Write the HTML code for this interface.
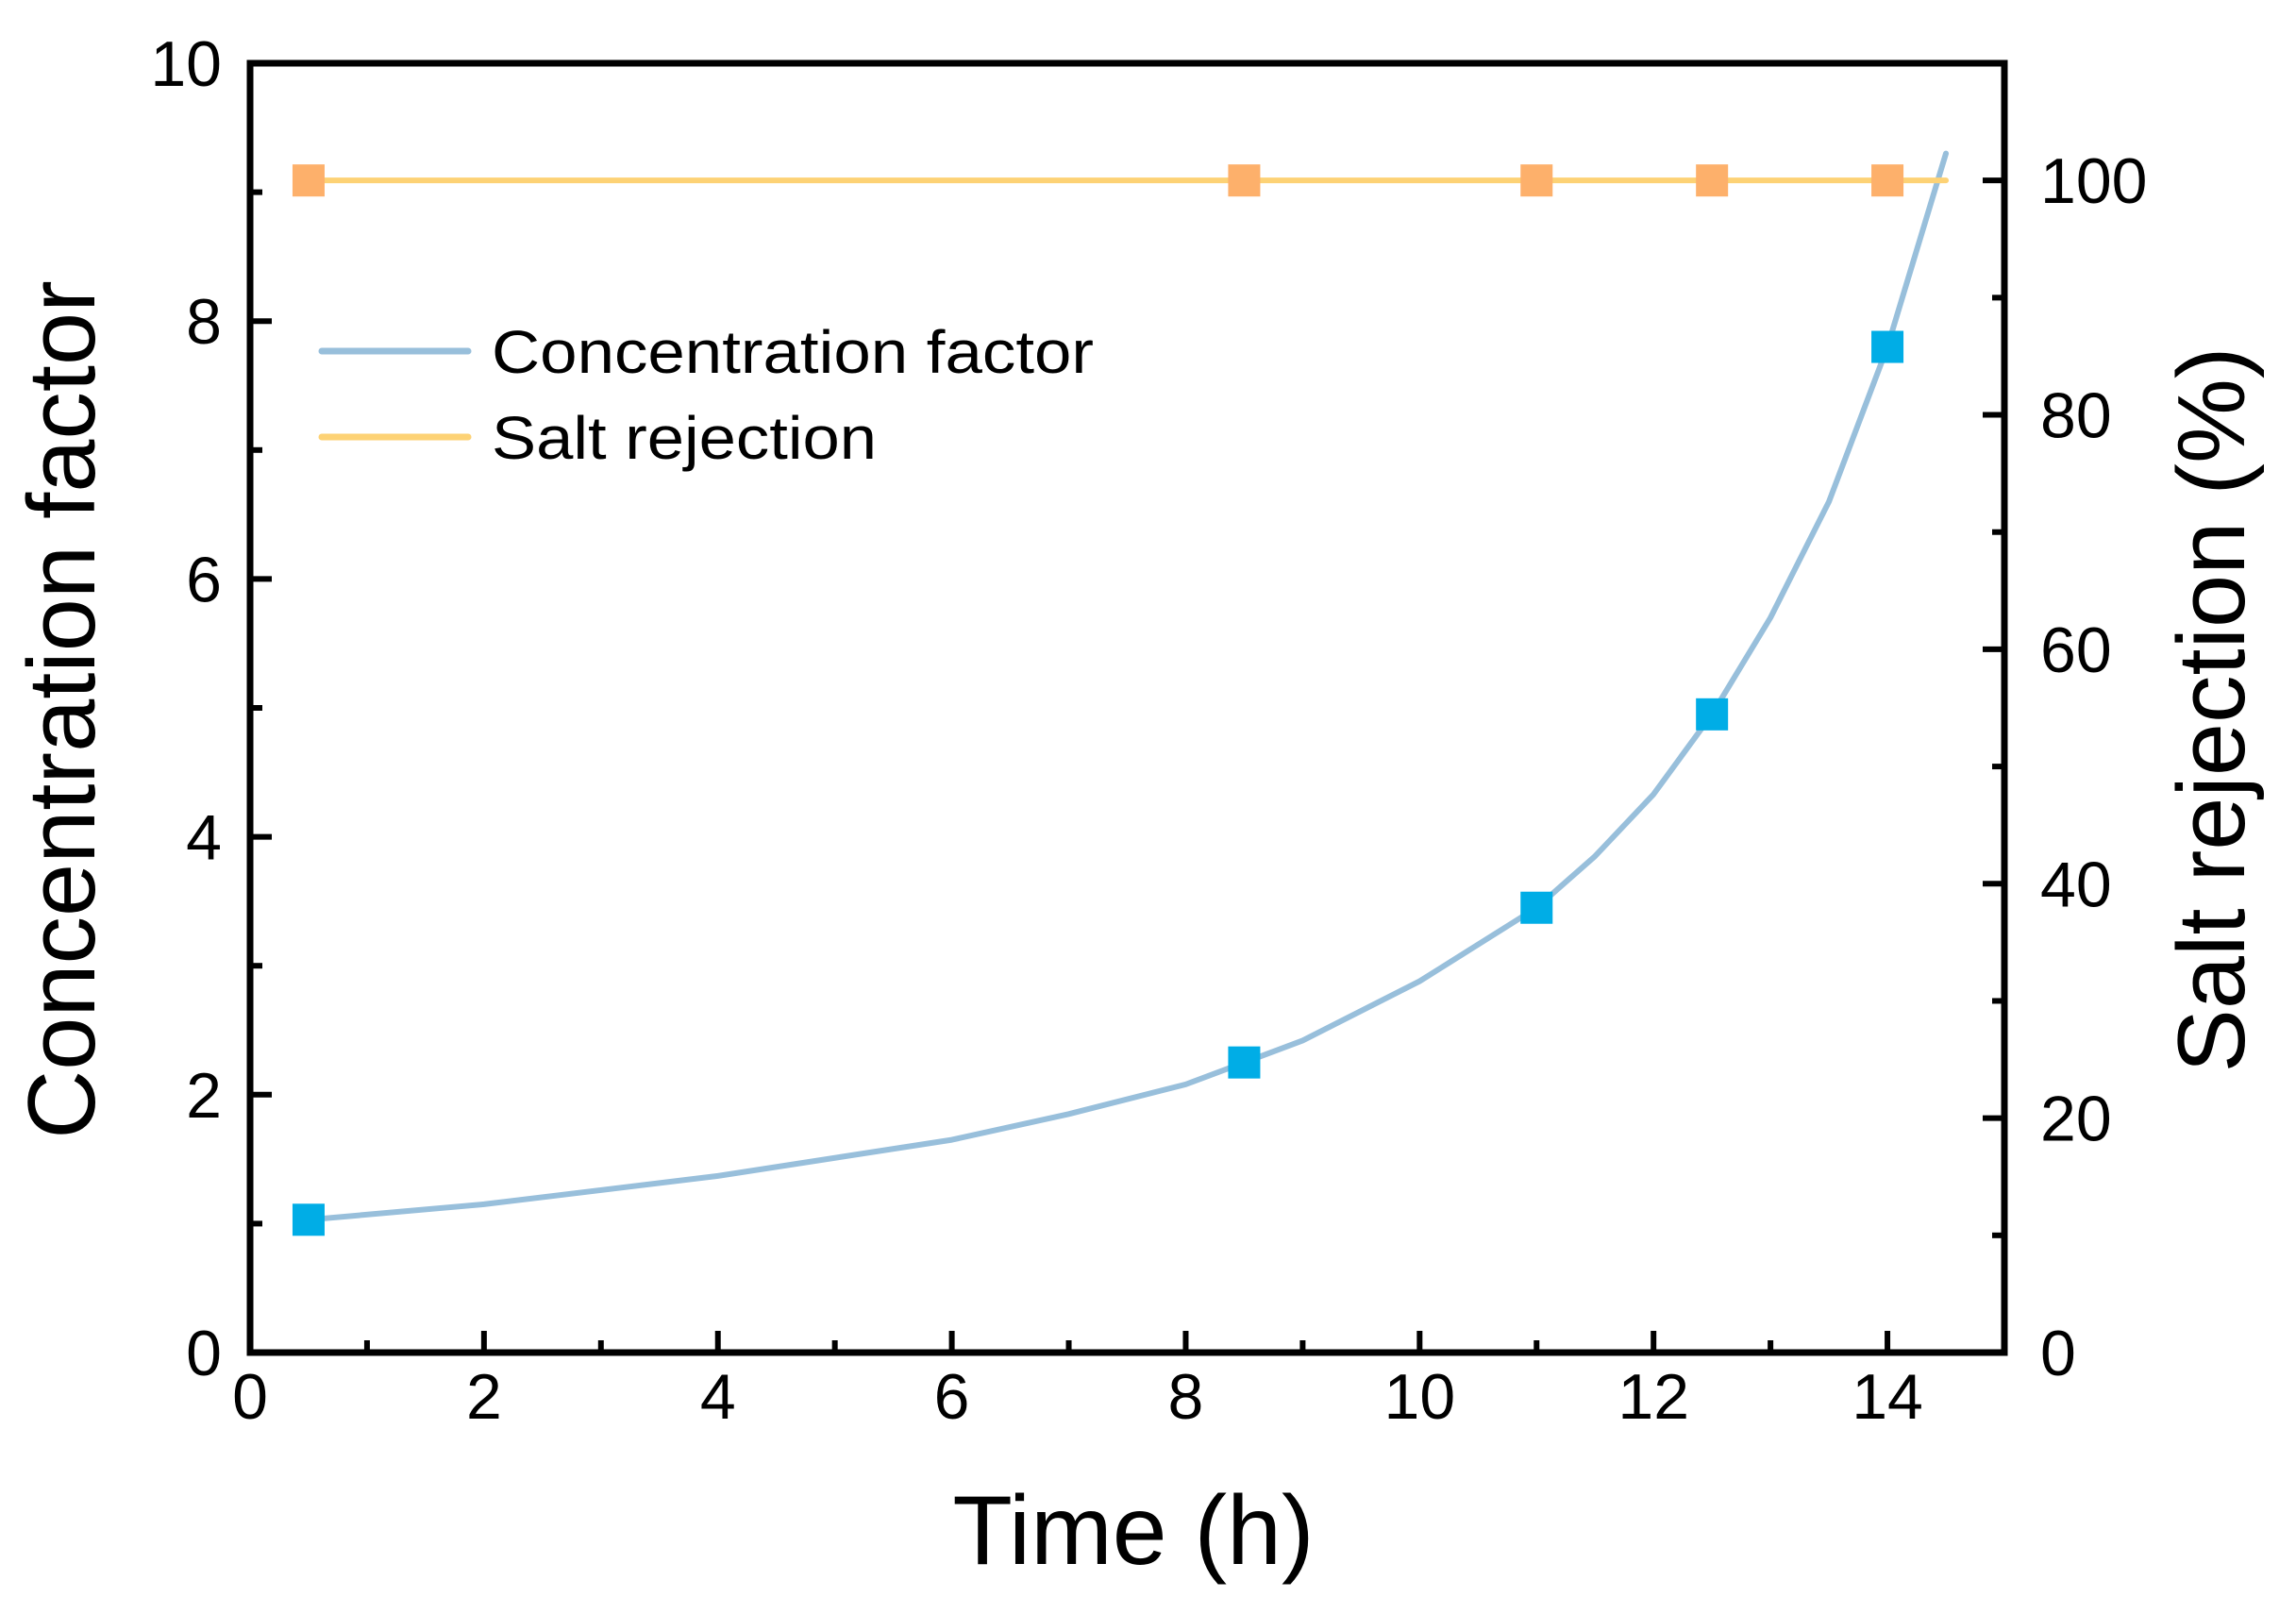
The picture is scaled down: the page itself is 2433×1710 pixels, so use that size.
<!DOCTYPE html>
<html><head><meta charset="utf-8"><style>html,body{margin:0;padding:0;background:#fff}svg{display:block}</style></head>
<body>
<svg id="chart" width="2433" height="1710" viewBox="0 0 2433 1710" xmlns="http://www.w3.org/2000/svg" font-family="Liberation Sans, Arial, sans-serif">
<g id="marks"></g>
<g id="axes"></g>
</svg>
<script>
const xTicks = [0,2,4,6,8,10,12,14];
const yLeftTicks = [0,2,4,6,8,10];
const yRightTicks = [0,20,40,60,80,100];
const cfLineX = [0.5,2,4,6,7,8,8.5,9,10,11,11.5,12,12.5,13,13.5,14,14.5];
const cfLineY = [1.03,1.15,1.37,1.65,1.85,2.08,2.25,2.42,2.88,3.45,3.85,4.33,4.95,5.7,6.6,7.8,9.3];
const cfPointX = [0.5,8.5,11,12.5,14];
const cfPointY = [1.03,2.25,3.45,4.95,7.8];
const srLineX = [0.5,14.5];
const srLineY = [100,100];
const srPointX = [0.5,8.5,11,12.5,14];
const srPointY = [100,100,100,100,100];

const L=265,R=2124,T=67,B=1433;
const xS=v=>L+(v-0)/15*(R-L);
const yL=v=>B-(v/10)*(B-T);
const yR=v=>B-(v/110)*(B-T);
const NS='http://www.w3.org/2000/svg';
function mk(tag,attrs,parent){const e=document.createElementNS(NS,tag);for(const k in attrs)e.setAttribute(k,attrs[k]);parent.appendChild(e);return e;}
const marks=document.getElementById('marks'), axes=document.getElementById('axes');

let d=cfLineX.map((x,i)=>(i?'L':'M')+xS(x)+' '+yL(cfLineY[i])).join(' ');
let p=mk('path',{d:d,fill:'none',stroke:'#98bfdb','stroke-width':6,'stroke-linecap':'round','stroke-linejoin':'round'},marks);


d=srLineX.map((x,i)=>(i?'L':'M')+xS(x)+' '+yR(srLineY[i])).join(' ');
p=mk('path',{d:d,fill:'none',stroke:'#fdd275','stroke-width':6,'stroke-linecap':'round'},marks);


const S=34;
srPointX.forEach((x,i)=>{const r=mk('rect',{x:xS(x)-S/2,y:yR(srPointY[i])-S/2,width:S,height:S,fill:'#fdb06b'},marks);

});
cfPointX.forEach((x,i)=>{const r=mk('rect',{x:xS(x)-S/2,y:yL(cfPointY[i])-S/2,width:S,height:S,fill:'#00ade6'},marks);

});

let f=mk('rect',{x:L,y:T,width:R-L,height:B-T,fill:'none',stroke:'#000','stroke-width':7},axes);


const MJ=23,MN=13;
for(let v=0;v<=15;v++){const x=xS(v);const len=(v%2===0)?MJ:MN;mk('line',{x1:x,y1:B,x2:x,y2:B-len,stroke:'#000','stroke-width':6},axes);}
xTicks.forEach(v=>{const t=mk('text',{x:xS(v),y:B+70,'font-size':68,'text-anchor':'middle'},axes);t.textContent=v;

});
for(let v=0;v<=10;v++){const y=yL(v);const len=(v%2===0)?MJ:MN;mk('line',{x1:L,y1:y,x2:L+len,y2:y,stroke:'#000','stroke-width':6},axes);}
yLeftTicks.forEach(v=>{const t=mk('text',{x:L-30,y:yL(v)+24,'font-size':68,'text-anchor':'end'},axes);t.textContent=v;

});
for(let v=0;v<=110;v+=10){const y=yR(v);const len=(v%20===0)?MJ:MN;mk('line',{x1:R,y1:y,x2:R-len,y2:y,stroke:'#000','stroke-width':6},axes);}
yRightTicks.forEach(v=>{const t=mk('text',{x:R+38,y:yR(v)+24,'font-size':68,'text-anchor':'start'},axes);t.textContent=v;

});
let t=mk('text',{x:1201,y:1657,'font-size':104,'text-anchor':'middle'},axes);t.textContent='Time (h)';


t=mk('text',{x:0,y:0,'font-size':101,'text-anchor':'middle',transform:'translate(100,752) rotate(-90)'},axes);t.textContent='Concentration factor';


t=mk('text',{x:0,y:0,'font-size':101,'text-anchor':'middle',transform:'translate(2378,752) rotate(-90)'},axes);t.textContent='Salt rejection (%)';


const lg=mk('g',{},axes);


mk('line',{x1:341,y1:372,x2:496,y2:372,stroke:'#98bfdb','stroke-width':7,'stroke-linecap':'round'},lg);
mk('line',{x1:341,y1:463,x2:496,y2:463,stroke:'#fdd275','stroke-width':7,'stroke-linecap':'round'},lg);
t=mk('text',{x:521,y:395,'font-size':64,textLength:638,lengthAdjust:'spacingAndGlyphs'},lg);t.textContent='Concentration factor';


t=mk('text',{x:521,y:486,'font-size':64,textLength:408,lengthAdjust:'spacingAndGlyphs'},lg);t.textContent='Salt rejection';


</script>
</body></html>
